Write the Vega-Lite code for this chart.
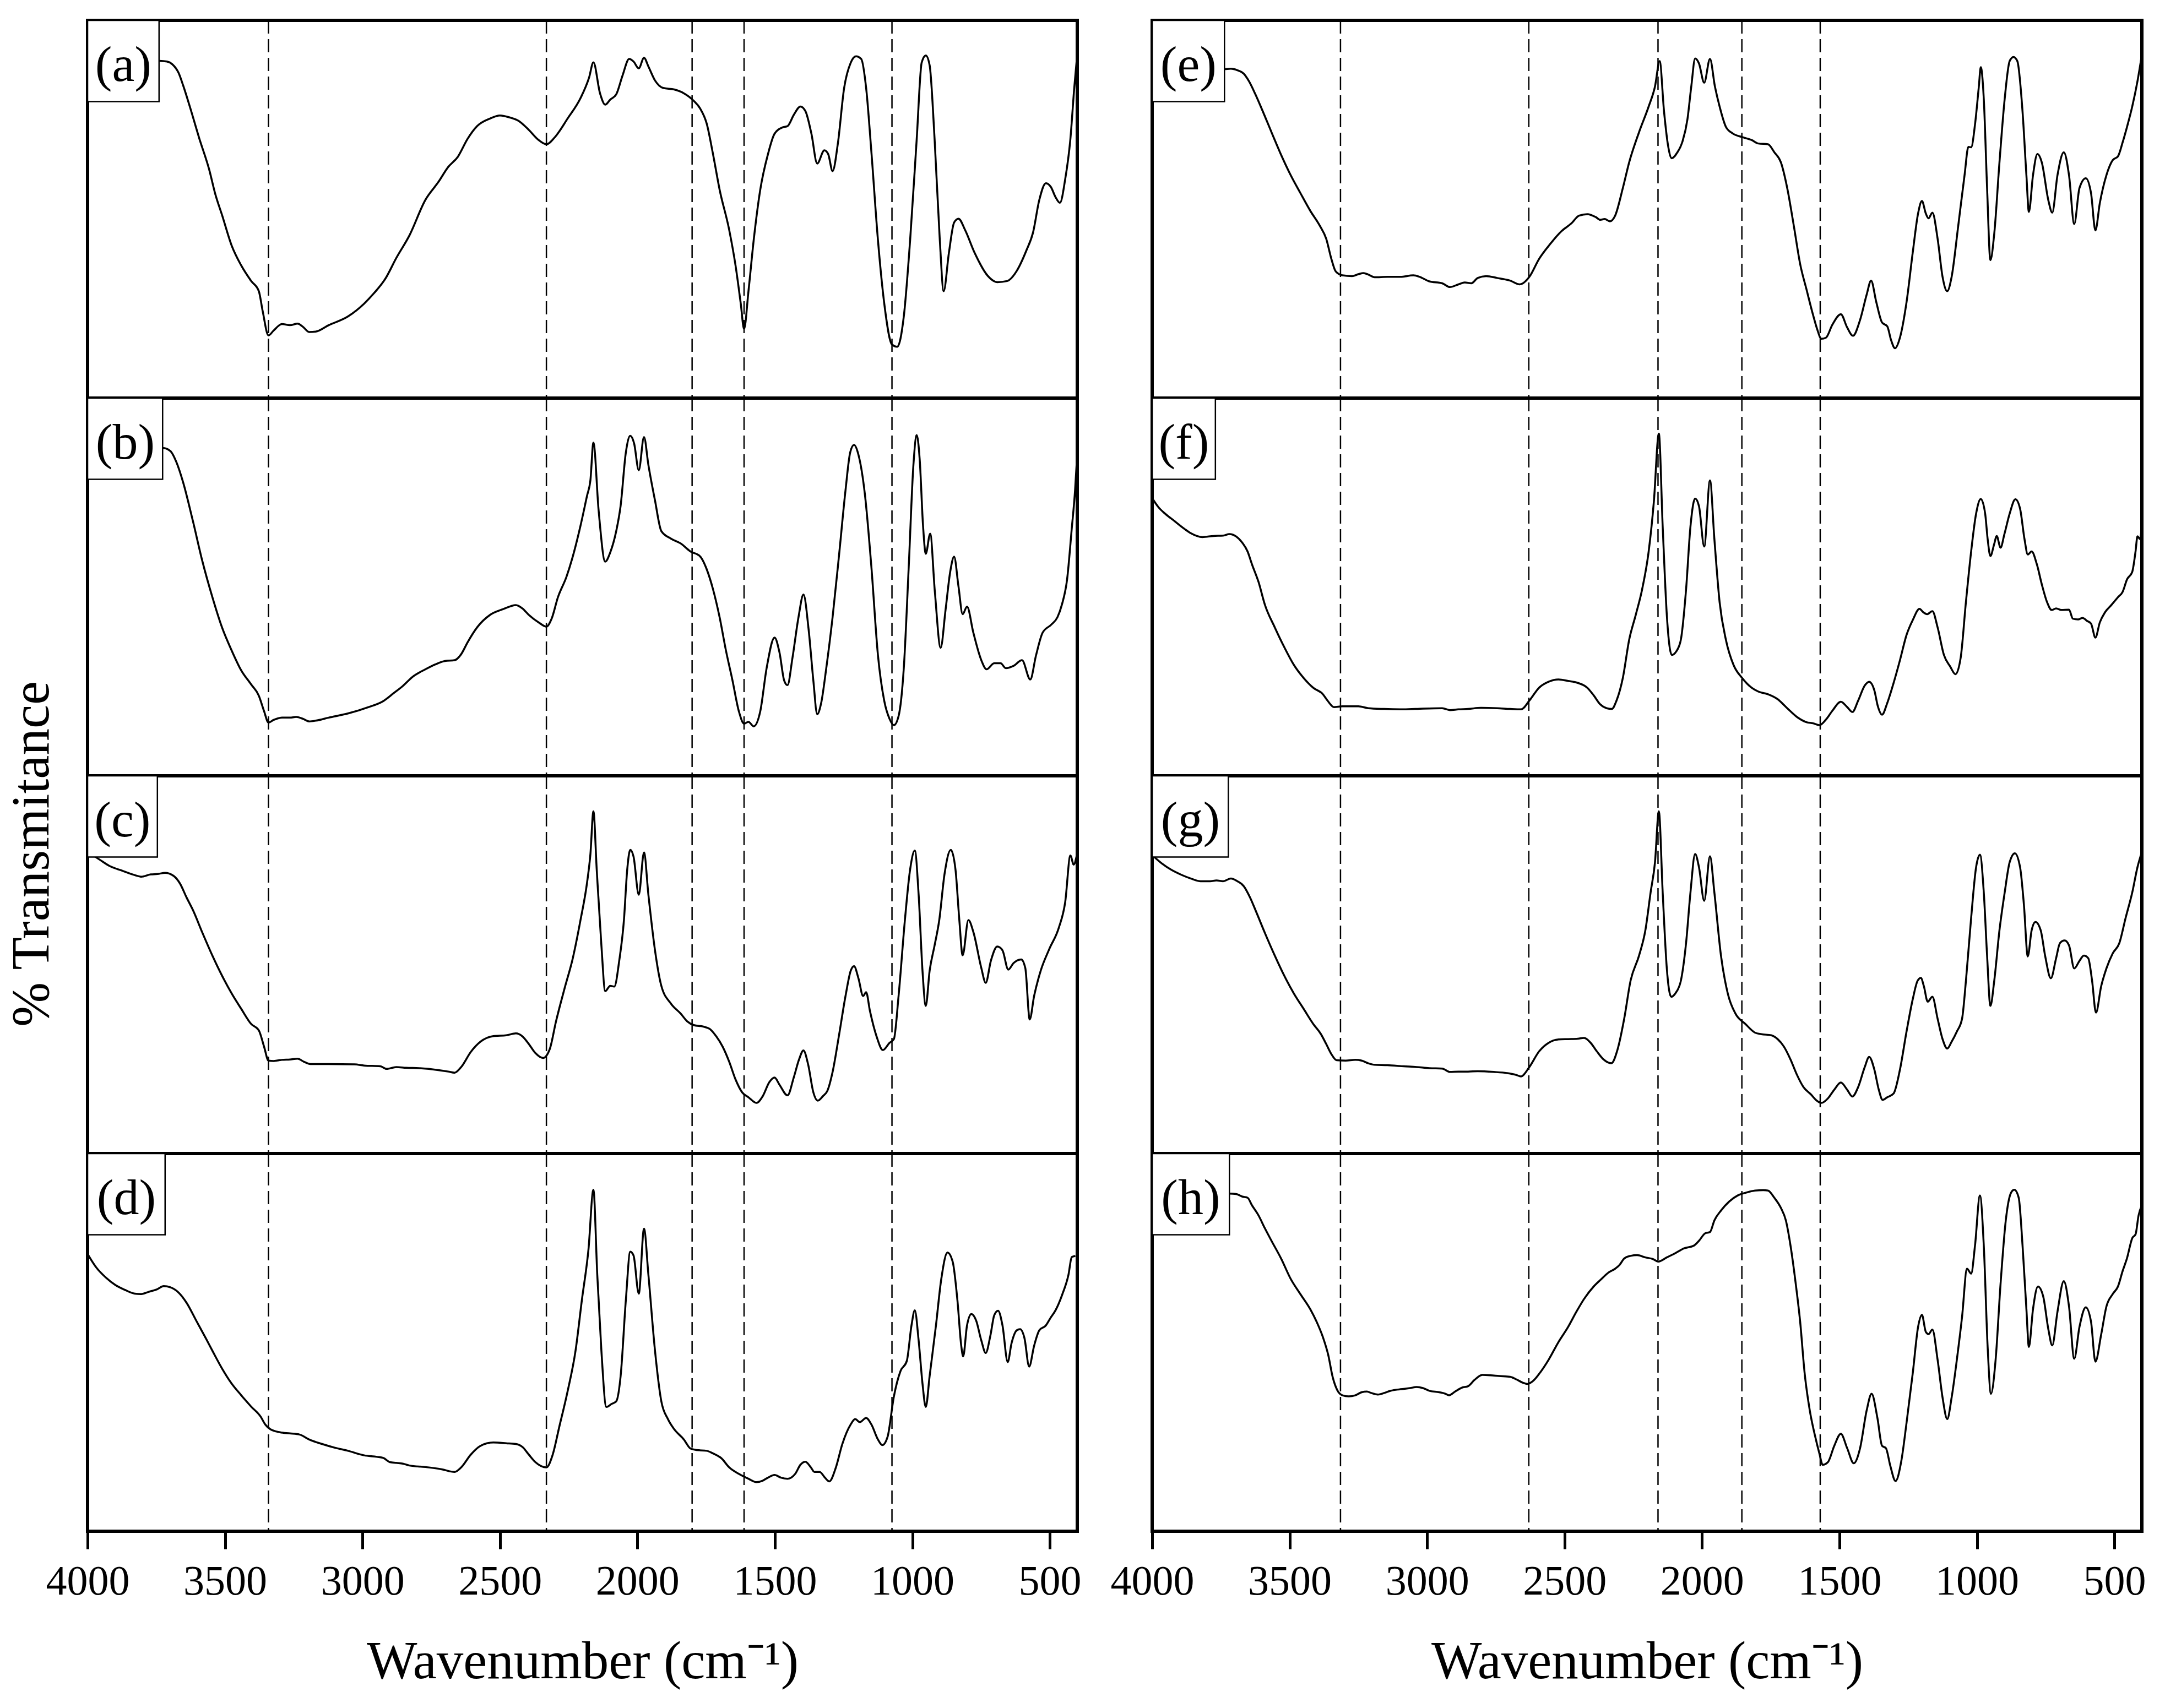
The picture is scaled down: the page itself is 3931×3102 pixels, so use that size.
{
  "$schema": "https://vega.github.io/schema/vega-lite/v6.json",
  "background": "white",
  "padding": {"left": 9, "top": 32, "right": 5, "bottom": 5},
  "config": {
    "font": "Liberation Serif",
    "view": {"stroke": "black", "strokeWidth": 6},
    "line": {"interpolate": "monotone"},
    "axis": {
      "domain": false,
      "grid": false,
      "ticks": true,
      "tickColor": "black",
      "tickWidth": 5,
      "tickSize": 32,
      "labelFont": "Liberation Serif",
      "labelFontSize": 76,
      "labelColor": "black",
      "labelPadding": 22,
      "titleFont": "Liberation Serif",
      "titleFontSize": 97,
      "titleFontWeight": "normal",
      "titleColor": "black",
      "titlePadding": 60
    }
  },
  "datasets": {
    "dashL": [{"wn": 3342}, {"wn": 2331}, {"wn": 1801}, {"wn": 1612}, {"wn": 1074}],
    "dashR": [{"wn": 3315}, {"wn": 2630}, {"wn": 2160}, {"wn": 1855}, {"wn": 1570}],
    "a": [{"wn":4000,"t":89.5},{"wn":3739,"t":89.3},{"wn":3711,"t":89.1},{"wn":3692,"t":88.4},{"wn":3669,"t":86.1},{"wn":3652,"t":82.7},{"wn":3629,"t":77.4},{"wn":3593,"t":68.6},{"wn":3558,"t":60.6},{"wn":3535,"t":53.9},{"wn":3511,"t":48.5},{"wn":3476,"t":40.4},{"wn":3441,"t":35.1},{"wn":3405,"t":31.0},{"wn":3377,"t":28.3},{"wn":3363,"t":23.0},{"wn":3342,"t":16.6},{"wn":3323,"t":17.9},{"wn":3293,"t":19.6},{"wn":3264,"t":19.3},{"wn":3236,"t":19.7},{"wn":3217,"t":18.9},{"wn":3194,"t":17.5},{"wn":3170,"t":17.6},{"wn":3123,"t":19.3},{"wn":3053,"t":21.6},{"wn":2994,"t":25.0},{"wn":2959,"t":27.7},{"wn":2916,"t":31.7},{"wn":2877,"t":37.1},{"wn":2829,"t":43.1},{"wn":2771,"t":52.5},{"wn":2724,"t":57.2},{"wn":2688,"t":61.2},{"wn":2653,"t":63.9},{"wn":2618,"t":68.6},{"wn":2583,"t":72.0},{"wn":2536,"t":74.0},{"wn":2500,"t":74.8},{"wn":2465,"t":74.3},{"wn":2430,"t":73.3},{"wn":2395,"t":71.0},{"wn":2359,"t":68.3},{"wn":2331,"t":67.2},{"wn":2301,"t":69.0},{"wn":2254,"t":74.0},{"wn":2207,"t":79.4},{"wn":2176,"t":84.8},{"wn":2160,"t":88.9},{"wn":2136,"t":80.7},{"wn":2117,"t":77.7},{"wn":2099,"t":79.0},{"wn":2077,"t":80.4},{"wn":2054,"t":85.4},{"wn":2030,"t":89.8},{"wn":2014,"t":89.1},{"wn":1995,"t":87.3},{"wn":1976,"t":90.1},{"wn":1960,"t":87.8},{"wn":1936,"t":84.1},{"wn":1906,"t":82.1},{"wn":1866,"t":81.7},{"wn":1831,"t":80.7},{"wn":1795,"t":78.7},{"wn":1772,"t":76.7},{"wn":1748,"t":72.7},{"wn":1725,"t":64.6},{"wn":1701,"t":55.2},{"wn":1666,"t":44.5},{"wn":1643,"t":35.1},{"wn":1624,"t":25.0},{"wn":1612,"t":18.3},{"wn":1596,"t":28.3},{"wn":1577,"t":41.8},{"wn":1553,"t":55.2},{"wn":1525,"t":64.6},{"wn":1501,"t":70.0},{"wn":1471,"t":71.7},{"wn":1454,"t":72.0},{"wn":1431,"t":75.0},{"wn":1407,"t":77.2},{"wn":1389,"t":76.0},{"wn":1367,"t":70.0},{"wn":1346,"t":62.1},{"wn":1320,"t":65.6},{"wn":1306,"t":64.6},{"wn":1290,"t":60.1},{"wn":1271,"t":67.3},{"wn":1248,"t":82.1},{"wn":1224,"t":88.8},{"wn":1205,"t":90.5},{"wn":1186,"t":89.8},{"wn":1168,"t":82.1},{"wn":1149,"t":65.3},{"wn":1125,"t":41.8},{"wn":1102,"t":25.0},{"wn":1074,"t":14.2},{"wn":1055,"t":13.6},{"wn":1031,"t":21.6},{"wn":1008,"t":41.8},{"wn":984,"t":68.6},{"wn":966,"t":88.8},{"wn":951,"t":90.7},{"wn":937,"t":88.1},{"wn":919,"t":68.6},{"wn":900,"t":41.8},{"wn":886,"t":28.3},{"wn":867,"t":38.4},{"wn":848,"t":46.5},{"wn":832,"t":47.5},{"wn":808,"t":44.5},{"wn":773,"t":38.4},{"wn":726,"t":32.4},{"wn":691,"t":30.7},{"wn":655,"t":31.0},{"wn":620,"t":33.7},{"wn":585,"t":39.1},{"wn":561,"t":43.8},{"wn":538,"t":52.5},{"wn":514,"t":56.9},{"wn":496,"t":55.9},{"wn":479,"t":53.2},{"wn":463,"t":51.7},{"wn":444,"t":57.9},{"wn":425,"t":68.6},{"wn":411,"t":82.1},{"wn":402,"t":89.5}],
    "b": [{"wn":4000,"t":87.0},{"wn":3727,"t":86.8},{"wn":3699,"t":86.0},{"wn":3676,"t":82.9},{"wn":3652,"t":77.6},{"wn":3617,"t":67.5},{"wn":3582,"t":56.7},{"wn":3546,"t":47.3},{"wn":3511,"t":39.3},{"wn":3476,"t":33.2},{"wn":3441,"t":27.9},{"wn":3405,"t":24.2},{"wn":3377,"t":21.2},{"wn":3358,"t":17.1},{"wn":3342,"t":14.1},{"wn":3323,"t":14.8},{"wn":3293,"t":15.4},{"wn":3264,"t":15.4},{"wn":3241,"t":15.6},{"wn":3217,"t":15.1},{"wn":3194,"t":14.4},{"wn":3170,"t":14.6},{"wn":3123,"t":15.4},{"wn":3053,"t":16.5},{"wn":2982,"t":18.1},{"wn":2924,"t":19.8},{"wn":2888,"t":21.8},{"wn":2853,"t":23.8},{"wn":2818,"t":26.2},{"wn":2771,"t":28.2},{"wn":2735,"t":29.5},{"wn":2700,"t":30.4},{"wn":2665,"t":30.6},{"wn":2641,"t":32.2},{"wn":2618,"t":35.3},{"wn":2583,"t":39.3},{"wn":2536,"t":42.6},{"wn":2489,"t":44.1},{"wn":2442,"t":45.2},{"wn":2418,"t":44.3},{"wn":2395,"t":42.6},{"wn":2359,"t":40.6},{"wn":2331,"t":39.5},{"wn":2312,"t":41.6},{"wn":2289,"t":47.3},{"wn":2258,"t":52.7},{"wn":2230,"t":59.4},{"wn":2207,"t":66.2},{"wn":2183,"t":74.2},{"wn":2171,"t":78.2},{"wn":2160,"t":88.2},{"wn":2141,"t":70.2},{"wn":2117,"t":56.7},{"wn":2099,"t":59.1},{"wn":2077,"t":64.8},{"wn":2061,"t":71.5},{"wn":2042,"t":85.6},{"wn":2026,"t":90.0},{"wn":2012,"t":88.0},{"wn":1995,"t":80.9},{"wn":1976,"t":89.7},{"wn":1960,"t":82.3},{"wn":1936,"t":72.9},{"wn":1913,"t":64.8},{"wn":1878,"t":62.8},{"wn":1842,"t":61.5},{"wn":1807,"t":59.4},{"wn":1772,"t":58.1},{"wn":1748,"t":54.7},{"wn":1725,"t":49.4},{"wn":1701,"t":42.0},{"wn":1678,"t":33.2},{"wn":1654,"t":25.2},{"wn":1631,"t":17.1},{"wn":1612,"t":13.8},{"wn":1596,"t":14.3},{"wn":1577,"t":13.1},{"wn":1553,"t":17.1},{"wn":1530,"t":28.5},{"wn":1501,"t":36.6},{"wn":1483,"t":32.6},{"wn":1466,"t":25.2},{"wn":1454,"t":24.0},{"wn":1436,"t":31.2},{"wn":1414,"t":42.0},{"wn":1396,"t":48.0},{"wn":1377,"t":38.6},{"wn":1360,"t":25.2},{"wn":1346,"t":16.3},{"wn":1332,"t":19.1},{"wn":1313,"t":28.5},{"wn":1290,"t":42.0},{"wn":1266,"t":58.8},{"wn":1243,"t":75.6},{"wn":1226,"t":85.6},{"wn":1212,"t":87.6},{"wn":1196,"t":85.0},{"wn":1172,"t":74.2},{"wn":1149,"t":55.4},{"wn":1125,"t":31.9},{"wn":1102,"t":19.8},{"wn":1083,"t":15.1},{"wn":1067,"t":13.4},{"wn":1050,"t":15.8},{"wn":1031,"t":28.5},{"wn":1013,"t":55.4},{"wn":996,"t":82.3},{"wn":984,"t":90.2},{"wn":973,"t":83.6},{"wn":961,"t":66.2},{"wn":951,"t":58.8},{"wn":935,"t":64.1},{"wn":918,"t":48.7},{"wn":897,"t":33.9},{"wn":879,"t":44.0},{"wn":862,"t":54.1},{"wn":848,"t":58.0},{"wn":832,"t":50.1},{"wn":817,"t":42.8},{"wn":801,"t":44.8},{"wn":778,"t":37.9},{"wn":749,"t":30.6},{"wn":730,"t":28.2},{"wn":702,"t":29.8},{"wn":679,"t":29.8},{"wn":660,"t":28.5},{"wn":632,"t":29.1},{"wn":601,"t":30.6},{"wn":571,"t":25.5},{"wn":550,"t":31.9},{"wn":526,"t":37.9},{"wn":495,"t":40.0},{"wn":472,"t":42.0},{"wn":456,"t":45.3},{"wn":437,"t":52.0},{"wn":420,"t":65.5},{"wn":408,"t":75.6},{"wn":402,"t":82.9}],
    "c": [{"wn":4000,"t":79.9},{"wn":3958,"t":77.9},{"wn":3922,"t":76.2},{"wn":3875,"t":74.9},{"wn":3828,"t":73.7},{"wn":3805,"t":73.3},{"wn":3770,"t":73.9},{"wn":3746,"t":74.0},{"wn":3718,"t":74.3},{"wn":3687,"t":73.5},{"wn":3664,"t":71.5},{"wn":3640,"t":67.8},{"wn":3617,"t":64.5},{"wn":3582,"t":58.4},{"wn":3546,"t":52.4},{"wn":3511,"t":47.1},{"wn":3476,"t":42.4},{"wn":3441,"t":38.3},{"wn":3405,"t":34.3},{"wn":3377,"t":32.6},{"wn":3358,"t":28.3},{"wn":3342,"t":24.6},{"wn":3323,"t":24.5},{"wn":3293,"t":24.8},{"wn":3264,"t":24.9},{"wn":3236,"t":25.1},{"wn":3213,"t":24.3},{"wn":3189,"t":23.7},{"wn":3123,"t":23.7},{"wn":3029,"t":23.6},{"wn":2994,"t":23.3},{"wn":2935,"t":23.1},{"wn":2912,"t":22.4},{"wn":2877,"t":22.9},{"wn":2841,"t":22.7},{"wn":2794,"t":22.6},{"wn":2724,"t":22.1},{"wn":2688,"t":21.7},{"wn":2665,"t":21.4},{"wn":2641,"t":22.9},{"wn":2606,"t":26.9},{"wn":2571,"t":29.6},{"wn":2524,"t":31.1},{"wn":2477,"t":31.3},{"wn":2442,"t":31.8},{"wn":2418,"t":31.0},{"wn":2395,"t":29.0},{"wn":2371,"t":26.6},{"wn":2343,"t":25.3},{"wn":2319,"t":27.6},{"wn":2296,"t":35.0},{"wn":2265,"t":43.7},{"wn":2235,"t":51.7},{"wn":2207,"t":61.8},{"wn":2183,"t":71.8},{"wn":2171,"t":79.2},{"wn":2160,"t":90.6},{"wn":2148,"t":75.2},{"wn":2131,"t":55.1},{"wn":2117,"t":43.0},{"wn":2099,"t":44.4},{"wn":2084,"t":44.2},{"wn":2066,"t":51.1},{"wn":2049,"t":61.8},{"wn":2037,"t":75.2},{"wn":2026,"t":80.4},{"wn":2014,"t":78.6},{"wn":1995,"t":68.5},{"wn":1976,"t":79.7},{"wn":1960,"t":68.5},{"wn":1936,"t":53.8},{"wn":1913,"t":44.4},{"wn":1878,"t":39.7},{"wn":1842,"t":37.0},{"wn":1819,"t":35.0},{"wn":1795,"t":34.0},{"wn":1760,"t":33.6},{"wn":1737,"t":33.0},{"wn":1713,"t":31.0},{"wn":1690,"t":28.3},{"wn":1666,"t":24.3},{"wn":1643,"t":19.6},{"wn":1619,"t":16.2},{"wn":1596,"t":14.9},{"wn":1567,"t":13.4},{"wn":1544,"t":15.2},{"wn":1520,"t":18.9},{"wn":1501,"t":20.1},{"wn":1483,"t":18.2},{"wn":1454,"t":15.4},{"wn":1431,"t":20.2},{"wn":1412,"t":24.9},{"wn":1396,"t":27.3},{"wn":1379,"t":23.6},{"wn":1360,"t":16.2},{"wn":1344,"t":14.0},{"wn":1325,"t":15.2},{"wn":1309,"t":16.6},{"wn":1290,"t":21.6},{"wn":1266,"t":31.6},{"wn":1243,"t":41.7},{"wn":1224,"t":48.4},{"wn":1212,"t":49.6},{"wn":1196,"t":46.4},{"wn":1179,"t":41.7},{"wn":1168,"t":42.7},{"wn":1154,"t":37.7},{"wn":1130,"t":31.0},{"wn":1107,"t":27.4},{"wn":1083,"t":29.3},{"wn":1067,"t":30.3},{"wn":1050,"t":41.7},{"wn":1027,"t":61.8},{"wn":1008,"t":75.2},{"wn":991,"t":80.2},{"wn":977,"t":68.5},{"wn":963,"t":48.4},{"wn":951,"t":39.1},{"wn":937,"t":48.4},{"wn":919,"t":55.1},{"wn":902,"t":61.8},{"wn":883,"t":73.9},{"wn":860,"t":80.4},{"wn":843,"t":75.2},{"wn":829,"t":61.8},{"wn":817,"t":52.5},{"wn":796,"t":61.8},{"wn":777,"t":58.4},{"wn":749,"t":49.1},{"wn":733,"t":45.2},{"wn":714,"t":51.1},{"wn":691,"t":54.8},{"wn":672,"t":53.8},{"wn":651,"t":48.7},{"wn":632,"t":50.4},{"wn":604,"t":51.4},{"wn":589,"t":49.1},{"wn":573,"t":35.5},{"wn":557,"t":41.7},{"wn":533,"t":48.4},{"wn":502,"t":54.1},{"wn":467,"t":59.8},{"wn":444,"t":66.5},{"wn":425,"t":78.9},{"wn":413,"t":76.5},{"wn":402,"t":78.9}],
    "d": [{"wn":4000,"t":73.4},{"wn":3969,"t":69.9},{"wn":3934,"t":67.2},{"wn":3899,"t":65.2},{"wn":3864,"t":63.9},{"wn":3828,"t":62.9},{"wn":3805,"t":62.8},{"wn":3777,"t":63.4},{"wn":3746,"t":64.1},{"wn":3723,"t":64.9},{"wn":3699,"t":64.6},{"wn":3669,"t":63.2},{"wn":3640,"t":60.5},{"wn":3605,"t":55.8},{"wn":3570,"t":51.1},{"wn":3546,"t":47.8},{"wn":3511,"t":43.1},{"wn":3476,"t":39.1},{"wn":3441,"t":36.0},{"wn":3405,"t":33.0},{"wn":3370,"t":30.3},{"wn":3354,"t":28.3},{"wn":3335,"t":27.0},{"wn":3300,"t":26.2},{"wn":3264,"t":25.9},{"wn":3229,"t":25.6},{"wn":3194,"t":24.3},{"wn":3147,"t":23.1},{"wn":3100,"t":22.1},{"wn":3053,"t":21.3},{"wn":2994,"t":20.1},{"wn":2947,"t":19.7},{"wn":2924,"t":19.4},{"wn":2900,"t":18.3},{"wn":2877,"t":18.1},{"wn":2853,"t":17.9},{"wn":2829,"t":17.4},{"wn":2771,"t":17.0},{"wn":2712,"t":16.4},{"wn":2665,"t":15.7},{"wn":2641,"t":16.9},{"wn":2606,"t":20.3},{"wn":2571,"t":22.6},{"wn":2524,"t":23.5},{"wn":2477,"t":23.3},{"wn":2442,"t":23.1},{"wn":2418,"t":22.3},{"wn":2395,"t":20.3},{"wn":2371,"t":18.3},{"wn":2331,"t":16.9},{"wn":2308,"t":20.3},{"wn":2284,"t":27.7},{"wn":2254,"t":37.0},{"wn":2225,"t":47.8},{"wn":2202,"t":61.2},{"wn":2178,"t":74.6},{"wn":2160,"t":90.4},{"wn":2146,"t":67.9},{"wn":2131,"t":47.8},{"wn":2113,"t":32.9},{"wn":2094,"t":33.7},{"wn":2077,"t":34.4},{"wn":2061,"t":41.1},{"wn":2042,"t":61.2},{"wn":2026,"t":74.0},{"wn":2014,"t":73.0},{"wn":1995,"t":62.9},{"wn":1976,"t":80.1},{"wn":1960,"t":67.9},{"wn":1936,"t":47.8},{"wn":1913,"t":34.4},{"wn":1889,"t":29.7},{"wn":1866,"t":27.0},{"wn":1831,"t":24.3},{"wn":1807,"t":21.9},{"wn":1784,"t":21.5},{"wn":1748,"t":21.3},{"wn":1725,"t":20.6},{"wn":1694,"t":19.3},{"wn":1666,"t":16.9},{"wn":1631,"t":15.2},{"wn":1596,"t":13.9},{"wn":1567,"t":13.0},{"wn":1544,"t":13.4},{"wn":1525,"t":14.2},{"wn":1501,"t":14.9},{"wn":1478,"t":14.2},{"wn":1454,"t":13.9},{"wn":1426,"t":15.2},{"wn":1407,"t":17.6},{"wn":1389,"t":18.4},{"wn":1370,"t":17.0},{"wn":1356,"t":15.7},{"wn":1337,"t":15.7},{"wn":1318,"t":14.2},{"wn":1302,"t":13.2},{"wn":1278,"t":16.9},{"wn":1255,"t":23.0},{"wn":1224,"t":28.3},{"wn":1208,"t":29.7},{"wn":1191,"t":28.9},{"wn":1168,"t":30.0},{"wn":1149,"t":28.3},{"wn":1125,"t":24.3},{"wn":1109,"t":22.8},{"wn":1090,"t":25.0},{"wn":1067,"t":35.7},{"wn":1043,"t":42.4},{"wn":1020,"t":45.1},{"wn":1003,"t":54.5},{"wn":991,"t":58.5},{"wn":977,"t":50.5},{"wn":963,"t":39.1},{"wn":951,"t":32.9},{"wn":937,"t":41.1},{"wn":914,"t":54.5},{"wn":895,"t":66.6},{"wn":872,"t":73.8},{"wn":853,"t":71.3},{"wn":836,"t":61.2},{"wn":822,"t":49.1},{"wn":815,"t":46.3},{"wn":801,"t":54.5},{"wn":785,"t":57.5},{"wn":768,"t":55.8},{"wn":749,"t":50.5},{"wn":733,"t":47.2},{"wn":716,"t":51.8},{"wn":702,"t":57.2},{"wn":688,"t":58.4},{"wn":672,"t":54.5},{"wn":653,"t":44.8},{"wn":639,"t":49.8},{"wn":620,"t":53.2},{"wn":608,"t":53.5},{"wn":592,"t":51.1},{"wn":575,"t":43.6},{"wn":557,"t":49.1},{"wn":538,"t":53.2},{"wn":514,"t":54.5},{"wn":498,"t":56.4},{"wn":479,"t":58.5},{"wn":455,"t":62.6},{"wn":432,"t":67.9},{"wn":420,"t":72.6},{"wn":407,"t":72.9}],
    "e": [{"wn":4000,"t":87.0},{"wn":3737,"t":87.1},{"wn":3714,"t":87.2},{"wn":3690,"t":86.8},{"wn":3667,"t":85.9},{"wn":3648,"t":83.9},{"wn":3625,"t":80.5},{"wn":3601,"t":76.5},{"wn":3566,"t":70.4},{"wn":3531,"t":64.4},{"wn":3496,"t":59.0},{"wn":3461,"t":54.3},{"wn":3425,"t":49.6},{"wn":3390,"t":45.6},{"wn":3367,"t":42.2},{"wn":3348,"t":36.8},{"wn":3332,"t":33.5},{"wn":3308,"t":32.5},{"wn":3273,"t":32.3},{"wn":3250,"t":32.8},{"wn":3231,"t":33.1},{"wn":3214,"t":32.7},{"wn":3191,"t":32.0},{"wn":3144,"t":32.1},{"wn":3097,"t":32.1},{"wn":3050,"t":32.5},{"wn":3027,"t":32.1},{"wn":2992,"t":30.9},{"wn":2945,"t":30.4},{"wn":2917,"t":29.4},{"wn":2886,"t":30.1},{"wn":2863,"t":30.6},{"wn":2839,"t":30.4},{"wn":2816,"t":31.8},{"wn":2785,"t":32.3},{"wn":2745,"t":31.8},{"wn":2698,"t":31.1},{"wn":2663,"t":30.1},{"wn":2628,"t":32.1},{"wn":2593,"t":36.8},{"wn":2551,"t":40.9},{"wn":2511,"t":44.2},{"wn":2476,"t":46.2},{"wn":2447,"t":48.3},{"wn":2417,"t":48.7},{"wn":2386,"t":47.9},{"wn":2370,"t":47.2},{"wn":2354,"t":47.4},{"wn":2335,"t":46.8},{"wn":2316,"t":48.3},{"wn":2288,"t":55.6},{"wn":2265,"t":62.4},{"wn":2229,"t":70.4},{"wn":2194,"t":77.2},{"wn":2171,"t":82.5},{"wn":2154,"t":89.2},{"wn":2138,"t":75.8},{"wn":2124,"t":67.1},{"wn":2110,"t":63.5},{"wn":2091,"t":64.9},{"wn":2072,"t":67.7},{"wn":2053,"t":73.8},{"wn":2039,"t":82.5},{"wn":2025,"t":89.9},{"wn":2011,"t":88.6},{"wn":1992,"t":83.5},{"wn":1971,"t":89.8},{"wn":1953,"t":82.5},{"wn":1936,"t":77.2},{"wn":1913,"t":71.8},{"wn":1889,"t":70.1},{"wn":1854,"t":69.1},{"wn":1819,"t":68.3},{"wn":1795,"t":67.4},{"wn":1760,"t":67.2},{"wn":1737,"t":65.1},{"wn":1713,"t":62.4},{"wn":1690,"t":55.6},{"wn":1666,"t":45.6},{"wn":1643,"t":35.5},{"wn":1620,"t":28.8},{"wn":1596,"t":22.0},{"wn":1580,"t":18.0},{"wn":1566,"t":15.7},{"wn":1549,"t":16.0},{"wn":1526,"t":19.4},{"wn":1495,"t":22.2},{"wn":1472,"t":18.7},{"wn":1451,"t":16.5},{"wn":1425,"t":20.7},{"wn":1401,"t":27.4},{"wn":1385,"t":31.1},{"wn":1366,"t":25.4},{"wn":1345,"t":20.0},{"wn":1326,"t":19.0},{"wn":1312,"t":15.3},{"wn":1298,"t":13.2},{"wn":1280,"t":16.0},{"wn":1256,"t":25.4},{"wn":1233,"t":38.8},{"wn":1214,"t":48.9},{"wn":1200,"t":52.2},{"wn":1186,"t":48.9},{"wn":1176,"t":47.6},{"wn":1162,"t":49.1},{"wn":1143,"t":42.2},{"wn":1125,"t":32.1},{"wn":1108,"t":28.3},{"wn":1092,"t":32.1},{"wn":1068,"t":45.6},{"wn":1045,"t":59.0},{"wn":1031,"t":66.5},{"wn":1021,"t":66.4},{"wn":1007,"t":72.4},{"wn":993,"t":82.5},{"wn":986,"t":87.6},{"wn":975,"t":79.2},{"wn":963,"t":55.6},{"wn":951,"t":36.5},{"wn":937,"t":43.5},{"wn":918,"t":62.4},{"wn":899,"t":79.2},{"wn":881,"t":89.2},{"wn":867,"t":90.3},{"wn":853,"t":89.2},{"wn":834,"t":75.8},{"wn":820,"t":59.0},{"wn":811,"t":49.3},{"wn":796,"t":59.0},{"wn":780,"t":64.6},{"wn":764,"t":62.4},{"wn":740,"t":52.3},{"wn":726,"t":49.1},{"wn":707,"t":59.0},{"wn":684,"t":65.1},{"wn":665,"t":59.0},{"wn":646,"t":46.1},{"wn":627,"t":55.6},{"wn":604,"t":58.2},{"wn":585,"t":54.3},{"wn":569,"t":44.4},{"wn":553,"t":51.6},{"wn":529,"t":59.0},{"wn":506,"t":63.0},{"wn":487,"t":64.0},{"wn":470,"t":67.7},{"wn":454,"t":71.8},{"wn":435,"t":77.2},{"wn":416,"t":83.9},{"wn":400,"t":90.9}],
    "f": [{"wn":4000,"t":73.5},{"wn":3977,"t":71.1},{"wn":3953,"t":69.4},{"wn":3918,"t":67.4},{"wn":3883,"t":65.4},{"wn":3859,"t":64.2},{"wn":3817,"t":63.2},{"wn":3777,"t":63.5},{"wn":3742,"t":63.6},{"wn":3719,"t":64.0},{"wn":3695,"t":63.4},{"wn":3672,"t":61.7},{"wn":3653,"t":59.4},{"wn":3637,"t":56.0},{"wn":3613,"t":51.3},{"wn":3590,"t":45.3},{"wn":3554,"t":39.3},{"wn":3519,"t":34.0},{"wn":3484,"t":29.3},{"wn":3449,"t":25.9},{"wn":3414,"t":23.3},{"wn":3379,"t":21.6},{"wn":3362,"t":19.9},{"wn":3339,"t":18.2},{"wn":3308,"t":18.4},{"wn":3250,"t":18.4},{"wn":3214,"t":17.9},{"wn":3156,"t":17.7},{"wn":3085,"t":17.6},{"wn":3015,"t":17.8},{"wn":2945,"t":17.9},{"wn":2917,"t":17.4},{"wn":2886,"t":17.6},{"wn":2851,"t":17.7},{"wn":2804,"t":18.0},{"wn":2745,"t":17.9},{"wn":2698,"t":17.7},{"wn":2658,"t":17.6},{"wn":2628,"t":19.9},{"wn":2593,"t":23.3},{"wn":2558,"t":24.9},{"wn":2522,"t":25.5},{"wn":2487,"t":25.1},{"wn":2452,"t":24.6},{"wn":2417,"t":23.3},{"wn":2394,"t":21.3},{"wn":2370,"t":18.9},{"wn":2347,"t":17.9},{"wn":2328,"t":17.7},{"wn":2311,"t":19.9},{"wn":2288,"t":25.9},{"wn":2265,"t":36.0},{"wn":2241,"t":42.6},{"wn":2218,"t":49.3},{"wn":2194,"t":59.4},{"wn":2175,"t":72.7},{"wn":2157,"t":90.6},{"wn":2143,"t":66.0},{"wn":2128,"t":42.6},{"wn":2110,"t":32.0},{"wn":2093,"t":33.0},{"wn":2077,"t":36.0},{"wn":2058,"t":49.3},{"wn":2042,"t":66.0},{"wn":2025,"t":73.4},{"wn":2011,"t":71.4},{"wn":1992,"t":60.7},{"wn":1971,"t":78.2},{"wn":1955,"t":62.7},{"wn":1936,"t":46.0},{"wn":1913,"t":36.0},{"wn":1885,"t":29.3},{"wn":1854,"t":25.9},{"wn":1819,"t":23.3},{"wn":1795,"t":22.3},{"wn":1760,"t":21.6},{"wn":1725,"t":20.3},{"wn":1690,"t":17.9},{"wn":1655,"t":15.6},{"wn":1620,"t":14.2},{"wn":1596,"t":13.9},{"wn":1573,"t":13.4},{"wn":1549,"t":14.9},{"wn":1526,"t":17.2},{"wn":1495,"t":19.6},{"wn":1472,"t":18.2},{"wn":1453,"t":16.9},{"wn":1432,"t":19.9},{"wn":1408,"t":23.9},{"wn":1392,"t":24.9},{"wn":1373,"t":22.6},{"wn":1361,"t":18.6},{"wn":1345,"t":16.2},{"wn":1326,"t":19.3},{"wn":1303,"t":24.6},{"wn":1280,"t":30.6},{"wn":1256,"t":37.3},{"wn":1233,"t":41.3},{"wn":1209,"t":44.2},{"wn":1195,"t":43.3},{"wn":1181,"t":42.8},{"wn":1162,"t":43.6},{"wn":1143,"t":39.3},{"wn":1120,"t":32.0},{"wn":1097,"t":28.9},{"wn":1078,"t":26.9},{"wn":1059,"t":31.3},{"wn":1040,"t":46.0},{"wn":1021,"t":59.4},{"wn":1003,"t":69.4},{"wn":986,"t":73.3},{"wn":970,"t":69.4},{"wn":961,"t":62.7},{"wn":951,"t":58.2},{"wn":937,"t":61.4},{"wn":928,"t":63.5},{"wn":914,"t":60.4},{"wn":900,"t":64.0},{"wn":881,"t":69.4},{"wn":860,"t":73.2},{"wn":843,"t":70.7},{"wn":827,"t":62.7},{"wn":815,"t":58.6},{"wn":801,"t":59.4},{"wn":782,"t":56.0},{"wn":764,"t":50.7},{"wn":745,"t":46.0},{"wn":728,"t":43.9},{"wn":712,"t":44.3},{"wn":693,"t":43.9},{"wn":665,"t":44.0},{"wn":651,"t":41.6},{"wn":632,"t":41.4},{"wn":616,"t":41.8},{"wn":599,"t":41.0},{"wn":585,"t":40.3},{"wn":569,"t":36.6},{"wn":553,"t":40.6},{"wn":534,"t":43.3},{"wn":510,"t":45.3},{"wn":487,"t":47.3},{"wn":470,"t":48.7},{"wn":454,"t":52.0},{"wn":435,"t":54.0},{"wn":423,"t":59.4},{"wn":416,"t":63.4},{"wn":407,"t":62.7},{"wn":400,"t":66.0}],
    "g": [{"wn":4000,"t":79.0},{"wn":3965,"t":76.8},{"wn":3930,"t":75.1},{"wn":3894,"t":73.8},{"wn":3859,"t":72.8},{"wn":3824,"t":72.1},{"wn":3789,"t":72.1},{"wn":3766,"t":72.3},{"wn":3742,"t":72.1},{"wn":3714,"t":72.8},{"wn":3690,"t":72.1},{"wn":3667,"t":70.8},{"wn":3644,"t":67.8},{"wn":3620,"t":63.7},{"wn":3590,"t":58.4},{"wn":3554,"t":52.4},{"wn":3519,"t":47.0},{"wn":3484,"t":42.3},{"wn":3449,"t":38.3},{"wn":3414,"t":34.3},{"wn":3386,"t":31.6},{"wn":3367,"t":29.0},{"wn":3348,"t":26.3},{"wn":3329,"t":24.7},{"wn":3296,"t":24.6},{"wn":3261,"t":24.8},{"wn":3238,"t":24.6},{"wn":3214,"t":23.9},{"wn":3191,"t":23.5},{"wn":3144,"t":23.4},{"wn":3085,"t":23.1},{"wn":3038,"t":22.9},{"wn":2992,"t":22.6},{"wn":2945,"t":22.5},{"wn":2917,"t":21.6},{"wn":2886,"t":21.7},{"wn":2851,"t":21.7},{"wn":2816,"t":21.8},{"wn":2757,"t":21.6},{"wn":2710,"t":21.3},{"wn":2675,"t":20.8},{"wn":2659,"t":20.4},{"wn":2628,"t":22.9},{"wn":2593,"t":27.0},{"wn":2558,"t":29.3},{"wn":2522,"t":30.2},{"wn":2487,"t":30.3},{"wn":2452,"t":30.4},{"wn":2429,"t":30.6},{"wn":2405,"t":29.3},{"wn":2382,"t":27.0},{"wn":2358,"t":24.9},{"wn":2330,"t":23.9},{"wn":2307,"t":27.6},{"wn":2283,"t":35.7},{"wn":2260,"t":45.7},{"wn":2229,"t":52.4},{"wn":2206,"t":59.1},{"wn":2187,"t":69.1},{"wn":2171,"t":77.1},{"wn":2157,"t":90.6},{"wn":2143,"t":69.1},{"wn":2128,"t":49.0},{"wn":2112,"t":41.5},{"wn":2096,"t":42.5},{"wn":2077,"t":45.7},{"wn":2058,"t":55.7},{"wn":2042,"t":69.1},{"wn":2025,"t":79.3},{"wn":2011,"t":75.8},{"wn":1992,"t":66.9},{"wn":1971,"t":78.7},{"wn":1955,"t":69.1},{"wn":1931,"t":52.4},{"wn":1906,"t":42.3},{"wn":1878,"t":37.0},{"wn":1842,"t":34.3},{"wn":1807,"t":32.0},{"wn":1784,"t":31.6},{"wn":1748,"t":31.3},{"wn":1725,"t":30.3},{"wn":1702,"t":28.3},{"wn":1678,"t":24.9},{"wn":1655,"t":20.9},{"wn":1631,"t":17.6},{"wn":1603,"t":15.6},{"wn":1584,"t":14.1},{"wn":1566,"t":13.4},{"wn":1542,"t":14.6},{"wn":1519,"t":16.9},{"wn":1495,"t":18.8},{"wn":1472,"t":16.9},{"wn":1453,"t":15.1},{"wn":1432,"t":17.6},{"wn":1408,"t":22.9},{"wn":1392,"t":25.6},{"wn":1373,"t":22.2},{"wn":1357,"t":16.9},{"wn":1343,"t":14.2},{"wn":1326,"t":14.9},{"wn":1303,"t":15.9},{"wn":1280,"t":22.2},{"wn":1256,"t":32.3},{"wn":1233,"t":41.0},{"wn":1216,"t":45.7},{"wn":1204,"t":46.5},{"wn":1193,"t":44.3},{"wn":1179,"t":40.2},{"wn":1162,"t":41.5},{"wn":1143,"t":35.7},{"wn":1125,"t":30.3},{"wn":1108,"t":27.8},{"wn":1092,"t":29.6},{"wn":1073,"t":32.3},{"wn":1054,"t":35.7},{"wn":1040,"t":45.7},{"wn":1021,"t":62.4},{"wn":1003,"t":75.8},{"wn":989,"t":79.1},{"wn":975,"t":69.1},{"wn":963,"t":52.4},{"wn":951,"t":39.1},{"wn":937,"t":45.7},{"wn":918,"t":59.1},{"wn":899,"t":69.1},{"wn":881,"t":77.1},{"wn":862,"t":79.5},{"wn":843,"t":75.8},{"wn":829,"t":65.8},{"wn":815,"t":52.2},{"wn":801,"t":59.1},{"wn":787,"t":61.3},{"wn":768,"t":59.1},{"wn":752,"t":52.4},{"wn":731,"t":46.4},{"wn":712,"t":51.7},{"wn":698,"t":55.7},{"wn":681,"t":56.4},{"wn":665,"t":55.1},{"wn":646,"t":49.0},{"wn":627,"t":51.0},{"wn":611,"t":52.4},{"wn":595,"t":51.7},{"wn":581,"t":45.7},{"wn":567,"t":37.3},{"wn":548,"t":44.3},{"wn":529,"t":49.0},{"wn":506,"t":53.0},{"wn":482,"t":55.7},{"wn":459,"t":62.4},{"wn":435,"t":69.1},{"wn":416,"t":75.8},{"wn":400,"t":79.8}],
    "h": [{"wn":4000,"t":89.5},{"wn":3719,"t":89.4},{"wn":3695,"t":89.3},{"wn":3672,"t":88.6},{"wn":3653,"t":88.3},{"wn":3637,"t":86.3},{"wn":3613,"t":83.6},{"wn":3590,"t":80.2},{"wn":3566,"t":76.9},{"wn":3531,"t":72.2},{"wn":3496,"t":66.8},{"wn":3461,"t":62.8},{"wn":3425,"t":58.8},{"wn":3402,"t":55.5},{"wn":3379,"t":51.4},{"wn":3360,"t":46.8},{"wn":3343,"t":40.7},{"wn":3327,"t":37.4},{"wn":3308,"t":36.0},{"wn":3285,"t":35.7},{"wn":3261,"t":36.0},{"wn":3238,"t":36.8},{"wn":3219,"t":37.0},{"wn":3203,"t":36.6},{"wn":3179,"t":36.2},{"wn":3156,"t":36.6},{"wn":3132,"t":37.2},{"wn":3097,"t":37.6},{"wn":3062,"t":37.9},{"wn":3038,"t":38.2},{"wn":3015,"t":37.9},{"wn":2992,"t":37.2},{"wn":2956,"t":36.8},{"wn":2933,"t":36.4},{"wn":2921,"t":36.0},{"wn":2898,"t":37.0},{"wn":2874,"t":38.0},{"wn":2851,"t":38.4},{"wn":2827,"t":40.1},{"wn":2799,"t":41.4},{"wn":2769,"t":41.3},{"wn":2738,"t":41.1},{"wn":2698,"t":40.9},{"wn":2675,"t":40.2},{"wn":2651,"t":39.3},{"wn":2635,"t":39.0},{"wn":2616,"t":39.7},{"wn":2588,"t":42.1},{"wn":2558,"t":45.4},{"wn":2522,"t":50.1},{"wn":2487,"t":54.1},{"wn":2457,"t":58.1},{"wn":2429,"t":61.5},{"wn":2394,"t":64.8},{"wn":2370,"t":66.5},{"wn":2340,"t":68.5},{"wn":2316,"t":69.5},{"wn":2300,"t":70.5},{"wn":2283,"t":72.2},{"wn":2260,"t":72.9},{"wn":2236,"t":73.1},{"wn":2206,"t":72.5},{"wn":2180,"t":72.1},{"wn":2159,"t":71.4},{"wn":2128,"t":72.5},{"wn":2100,"t":73.5},{"wn":2065,"t":74.9},{"wn":2030,"t":75.6},{"wn":2011,"t":76.9},{"wn":1988,"t":78.9},{"wn":1971,"t":79.2},{"wn":1955,"t":82.3},{"wn":1931,"t":84.9},{"wn":1901,"t":87.3},{"wn":1870,"t":88.9},{"wn":1842,"t":89.6},{"wn":1807,"t":90.2},{"wn":1777,"t":90.3},{"wn":1760,"t":90.2},{"wn":1737,"t":88.3},{"wn":1713,"t":85.6},{"wn":1695,"t":82.3},{"wn":1678,"t":75.6},{"wn":1659,"t":65.5},{"wn":1643,"t":55.5},{"wn":1627,"t":42.1},{"wn":1608,"t":32.0},{"wn":1589,"t":25.3},{"wn":1573,"t":20.6},{"wn":1561,"t":17.6},{"wn":1542,"t":18.3},{"wn":1519,"t":22.6},{"wn":1495,"t":25.8},{"wn":1472,"t":22.0},{"wn":1448,"t":18.0},{"wn":1425,"t":22.0},{"wn":1401,"t":32.0},{"wn":1383,"t":36.4},{"wn":1362,"t":30.0},{"wn":1345,"t":22.6},{"wn":1331,"t":22.0},{"wn":1315,"t":17.3},{"wn":1296,"t":13.3},{"wn":1275,"t":18.6},{"wn":1256,"t":28.7},{"wn":1233,"t":42.1},{"wn":1214,"t":54.1},{"wn":1200,"t":57.3},{"wn":1186,"t":52.8},{"wn":1176,"t":52.2},{"wn":1162,"t":53.4},{"wn":1143,"t":45.4},{"wn":1125,"t":35.4},{"wn":1108,"t":29.7},{"wn":1092,"t":35.4},{"wn":1073,"t":45.4},{"wn":1054,"t":56.8},{"wn":1036,"t":69.5},{"wn":1021,"t":68.2},{"wn":1007,"t":75.6},{"wn":989,"t":88.9},{"wn":975,"t":75.6},{"wn":961,"t":48.8},{"wn":949,"t":36.4},{"wn":932,"t":45.4},{"wn":914,"t":65.5},{"wn":895,"t":82.3},{"wn":876,"t":89.6},{"wn":864,"t":90.4},{"wn":848,"t":88.3},{"wn":834,"t":75.6},{"wn":820,"t":58.8},{"wn":811,"t":48.8},{"wn":796,"t":58.8},{"wn":778,"t":64.8},{"wn":759,"t":62.2},{"wn":740,"t":53.4},{"wn":726,"t":49.2},{"wn":707,"t":58.1},{"wn":684,"t":66.2},{"wn":665,"t":59.5},{"wn":646,"t":45.7},{"wn":627,"t":54.1},{"wn":604,"t":59.3},{"wn":585,"t":55.5},{"wn":569,"t":44.9},{"wn":548,"t":52.1},{"wn":529,"t":59.5},{"wn":506,"t":62.8},{"wn":487,"t":64.8},{"wn":470,"t":68.9},{"wn":454,"t":72.3},{"wn":435,"t":77.6},{"wn":423,"t":78.6},{"wn":412,"t":83.6},{"wn":400,"t":86.3}]
  },
  "spacing": 46,
  "hconcat": [
    {
      "title": {"text": "% Transmitance", "orient": "left", "anchor": "middle", "font": "Liberation Serif", "fontSize": 97, "fontWeight": "normal", "color": "black", "offset": -28},
      "spacing": 0,
      "bounds": "flush",
      "vconcat": [
        {"width": 1797, "height": 686, "layer": [
          {"data": {"name": "dashL"}, "mark": {"type": "rule", "color": "black", "strokeWidth": 2.5, "strokeDash": [24, 10]}, "encoding": {"x": {"field": "wn", "type": "quantitative", "scale": {"domain": [4000, 400], "nice": false, "zero": false}, "axis": null}}},
          {"data": {"name": "a"}, "mark": {"type": "line", "color": "black", "strokeWidth": 3.5}, "encoding": {"x": {"field": "wn", "type": "quantitative"}, "y": {"field": "t", "type": "quantitative", "scale": {"domain": [0, 100], "nice": false, "zero": false}, "axis": null}}},
          {"data": {"values": [{}]}, "mark": {"type": "rect", "fill": "white", "stroke": "black", "strokeWidth": 2.5}, "encoding": {"x": {"datum": 4000, "type": "quantitative"}, "x2": {"datum": 3740}, "y": {"datum": 100, "type": "quantitative"}, "y2": {"datum": 78.5}}},
          {"data": {"values": [{}]}, "mark": {"type": "text", "font": "Liberation Serif", "fontSize": 92, "align": "center", "baseline": "middle", "color": "black"}, "encoding": {"x": {"datum": 3870, "type": "quantitative"}, "y": {"datum": 88, "type": "quantitative"}, "text": {"value": "(a)"}}}
        ]},
        {"width": 1797, "height": 686, "layer": [
          {"data": {"name": "dashL"}, "mark": {"type": "rule", "color": "black", "strokeWidth": 2.5, "strokeDash": [24, 10]}, "encoding": {"x": {"field": "wn", "type": "quantitative", "scale": {"domain": [4000, 400], "nice": false, "zero": false}, "axis": null}}},
          {"data": {"name": "b"}, "mark": {"type": "line", "color": "black", "strokeWidth": 3.5}, "encoding": {"x": {"field": "wn", "type": "quantitative"}, "y": {"field": "t", "type": "quantitative", "scale": {"domain": [0, 100], "nice": false, "zero": false}, "axis": null}}},
          {"data": {"values": [{}]}, "mark": {"type": "rect", "fill": "white", "stroke": "black", "strokeWidth": 2.5}, "encoding": {"x": {"datum": 4000, "type": "quantitative"}, "x2": {"datum": 3727}, "y": {"datum": 100, "type": "quantitative"}, "y2": {"datum": 78.5}}},
          {"data": {"values": [{}]}, "mark": {"type": "text", "font": "Liberation Serif", "fontSize": 92, "align": "center", "baseline": "middle", "color": "black"}, "encoding": {"x": {"datum": 3863, "type": "quantitative"}, "y": {"datum": 88, "type": "quantitative"}, "text": {"value": "(b)"}}}
        ]},
        {"width": 1797, "height": 686, "layer": [
          {"data": {"name": "dashL"}, "mark": {"type": "rule", "color": "black", "strokeWidth": 2.5, "strokeDash": [24, 10]}, "encoding": {"x": {"field": "wn", "type": "quantitative", "scale": {"domain": [4000, 400], "nice": false, "zero": false}, "axis": null}}},
          {"data": {"name": "c"}, "mark": {"type": "line", "color": "black", "strokeWidth": 3.5}, "encoding": {"x": {"field": "wn", "type": "quantitative"}, "y": {"field": "t", "type": "quantitative", "scale": {"domain": [0, 100], "nice": false, "zero": false}, "axis": null}}},
          {"data": {"values": [{}]}, "mark": {"type": "rect", "fill": "white", "stroke": "black", "strokeWidth": 2.5}, "encoding": {"x": {"datum": 4000, "type": "quantitative"}, "x2": {"datum": 3746}, "y": {"datum": 100, "type": "quantitative"}, "y2": {"datum": 78.5}}},
          {"data": {"values": [{}]}, "mark": {"type": "text", "font": "Liberation Serif", "fontSize": 92, "align": "center", "baseline": "middle", "color": "black"}, "encoding": {"x": {"datum": 3873, "type": "quantitative"}, "y": {"datum": 88, "type": "quantitative"}, "text": {"value": "(c)"}}}
        ]},
        {"width": 1797, "height": 686, "layer": [
          {"data": {"name": "dashL"}, "mark": {"type": "rule", "color": "black", "strokeWidth": 2.5, "strokeDash": [24, 10]}, "encoding": {"x": {"field": "wn", "type": "quantitative", "scale": {"domain": [4000, 400], "nice": false, "zero": false}, "axis": {"values": [4000, 3500, 3000, 2500, 2000, 1500, 1000, 500], "format": "d", "title": "Wavenumber (cm⁻¹)", "labelFlush": false, "labelOverlap": false}}}},
          {"data": {"name": "d"}, "mark": {"type": "line", "color": "black", "strokeWidth": 3.5}, "encoding": {"x": {"field": "wn", "type": "quantitative"}, "y": {"field": "t", "type": "quantitative", "scale": {"domain": [0, 100], "nice": false, "zero": false}, "axis": null}}},
          {"data": {"values": [{}]}, "mark": {"type": "rect", "fill": "white", "stroke": "black", "strokeWidth": 2.5}, "encoding": {"x": {"datum": 4000, "type": "quantitative"}, "x2": {"datum": 3718}, "y": {"datum": 100, "type": "quantitative"}, "y2": {"datum": 78.5}}},
          {"data": {"values": [{}]}, "mark": {"type": "text", "font": "Liberation Serif", "fontSize": 92, "align": "center", "baseline": "middle", "color": "black"}, "encoding": {"x": {"datum": 3859, "type": "quantitative"}, "y": {"datum": 88, "type": "quantitative"}, "text": {"value": "(d)"}}}
        ]}
      ]
    },
    {
      "spacing": 0,
      "bounds": "flush",
      "vconcat": [
        {"width": 1797, "height": 686, "layer": [
          {"data": {"name": "dashR"}, "mark": {"type": "rule", "color": "black", "strokeWidth": 2.5, "strokeDash": [24, 10]}, "encoding": {"x": {"field": "wn", "type": "quantitative", "scale": {"domain": [4000, 400], "nice": false, "zero": false}, "axis": null}}},
          {"data": {"name": "e"}, "mark": {"type": "line", "color": "black", "strokeWidth": 3.5}, "encoding": {"x": {"field": "wn", "type": "quantitative"}, "y": {"field": "t", "type": "quantitative", "scale": {"domain": [0, 100], "nice": false, "zero": false}, "axis": null}}},
          {"data": {"values": [{}]}, "mark": {"type": "rect", "fill": "white", "stroke": "black", "strokeWidth": 2.5}, "encoding": {"x": {"datum": 4000, "type": "quantitative"}, "x2": {"datum": 3737}, "y": {"datum": 100, "type": "quantitative"}, "y2": {"datum": 78.5}}},
          {"data": {"values": [{}]}, "mark": {"type": "text", "font": "Liberation Serif", "fontSize": 92, "align": "center", "baseline": "middle", "color": "black"}, "encoding": {"x": {"datum": 3868, "type": "quantitative"}, "y": {"datum": 88, "type": "quantitative"}, "text": {"value": "(e)"}}}
        ]},
        {"width": 1797, "height": 686, "layer": [
          {"data": {"name": "dashR"}, "mark": {"type": "rule", "color": "black", "strokeWidth": 2.5, "strokeDash": [24, 10]}, "encoding": {"x": {"field": "wn", "type": "quantitative", "scale": {"domain": [4000, 400], "nice": false, "zero": false}, "axis": null}}},
          {"data": {"name": "f"}, "mark": {"type": "line", "color": "black", "strokeWidth": 3.5}, "encoding": {"x": {"field": "wn", "type": "quantitative"}, "y": {"field": "t", "type": "quantitative", "scale": {"domain": [0, 100], "nice": false, "zero": false}, "axis": null}}},
          {"data": {"values": [{}]}, "mark": {"type": "rect", "fill": "white", "stroke": "black", "strokeWidth": 2.5}, "encoding": {"x": {"datum": 4000, "type": "quantitative"}, "x2": {"datum": 3770}, "y": {"datum": 100, "type": "quantitative"}, "y2": {"datum": 78.5}}},
          {"data": {"values": [{}]}, "mark": {"type": "text", "font": "Liberation Serif", "fontSize": 92, "align": "center", "baseline": "middle", "color": "black"}, "encoding": {"x": {"datum": 3885, "type": "quantitative"}, "y": {"datum": 88, "type": "quantitative"}, "text": {"value": "(f)"}}}
        ]},
        {"width": 1797, "height": 686, "layer": [
          {"data": {"name": "dashR"}, "mark": {"type": "rule", "color": "black", "strokeWidth": 2.5, "strokeDash": [24, 10]}, "encoding": {"x": {"field": "wn", "type": "quantitative", "scale": {"domain": [4000, 400], "nice": false, "zero": false}, "axis": null}}},
          {"data": {"name": "g"}, "mark": {"type": "line", "color": "black", "strokeWidth": 3.5}, "encoding": {"x": {"field": "wn", "type": "quantitative"}, "y": {"field": "t", "type": "quantitative", "scale": {"domain": [0, 100], "nice": false, "zero": false}, "axis": null}}},
          {"data": {"values": [{}]}, "mark": {"type": "rect", "fill": "white", "stroke": "black", "strokeWidth": 2.5}, "encoding": {"x": {"datum": 4000, "type": "quantitative"}, "x2": {"datum": 3723}, "y": {"datum": 100, "type": "quantitative"}, "y2": {"datum": 78.5}}},
          {"data": {"values": [{}]}, "mark": {"type": "text", "font": "Liberation Serif", "fontSize": 92, "align": "center", "baseline": "middle", "color": "black"}, "encoding": {"x": {"datum": 3861, "type": "quantitative"}, "y": {"datum": 88, "type": "quantitative"}, "text": {"value": "(g)"}}}
        ]},
        {"width": 1797, "height": 686, "layer": [
          {"data": {"name": "dashR"}, "mark": {"type": "rule", "color": "black", "strokeWidth": 2.5, "strokeDash": [24, 10]}, "encoding": {"x": {"field": "wn", "type": "quantitative", "scale": {"domain": [4000, 400], "nice": false, "zero": false}, "axis": {"values": [4000, 3500, 3000, 2500, 2000, 1500, 1000, 500], "format": "d", "title": "Wavenumber (cm⁻¹)", "labelFlush": false, "labelOverlap": false}}}},
          {"data": {"name": "h"}, "mark": {"type": "line", "color": "black", "strokeWidth": 3.5}, "encoding": {"x": {"field": "wn", "type": "quantitative"}, "y": {"field": "t", "type": "quantitative", "scale": {"domain": [0, 100], "nice": false, "zero": false}, "axis": null}}},
          {"data": {"values": [{}]}, "mark": {"type": "rect", "fill": "white", "stroke": "black", "strokeWidth": 2.5}, "encoding": {"x": {"datum": 4000, "type": "quantitative"}, "x2": {"datum": 3719}, "y": {"datum": 100, "type": "quantitative"}, "y2": {"datum": 78.5}}},
          {"data": {"values": [{}]}, "mark": {"type": "text", "font": "Liberation Serif", "fontSize": 92, "align": "center", "baseline": "middle", "color": "black"}, "encoding": {"x": {"datum": 3860, "type": "quantitative"}, "y": {"datum": 88, "type": "quantitative"}, "text": {"value": "(h)"}}}
        ]}
      ]
    }
  ]
}
